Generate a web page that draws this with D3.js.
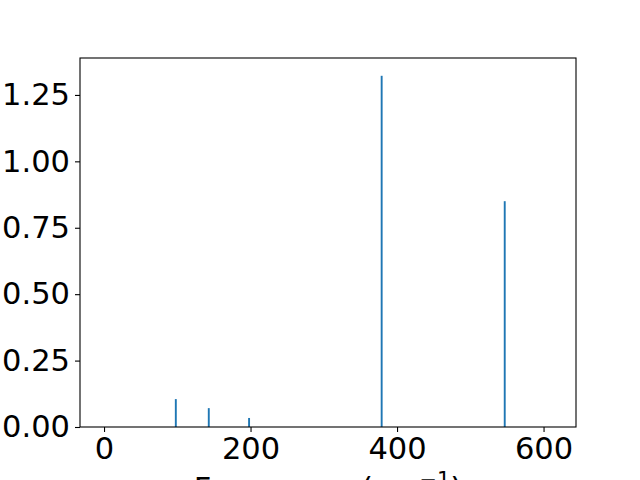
<!DOCTYPE html>
<html><head><meta charset="utf-8">
<script src="https://cdn.jsdelivr.net/npm/d3@7"></script>
<style>body{margin:0;background:#fff}svg{display:block}</style>
</head><body>
<script>
const freqs = [98, 143, 198, 379, 547];
const intensities = [0.105, 0.071, 0.034, 1.322, 0.850];
const xTicks = [0, 200, 400, 600];
const yTicks = [0, 0.25, 0.5, 0.75, 1.0, 1.25];
const barWidth = 2.6;

const W = 640, H = 480;
const m = {left: 80, right: 576, top: 58, bottom: 427};
const svg = d3.select("body").append("svg").attr("width", W).attr("height", H)
  .style("font-family", "DejaVu Sans");

const xs = d3.scaleLinear().domain([-32.8, 644.3]).range([m.left, m.right]);
const ys = d3.scaleLinear().domain([0, 1.389]).range([m.bottom, m.top]);

svg.append("g").selectAll("rect").data(freqs).join("rect")
  .attr("x", (d) => xs(d - barWidth / 2))
  .attr("width", (d) => xs(d + barWidth / 2) - xs(d - barWidth / 2))
  .attr("y", (d, i) => ys(intensities[i]))
  .attr("height", (d, i) => ys(0) - ys(intensities[i]))
  .attr("fill", "#1f77b4");

const xAxis = d3.axisBottom(xs).tickValues(xTicks).tickFormat(d3.format("d")).tickSize(5).tickPadding(5);
const yAxis = d3.axisLeft(ys).tickValues(yTicks).tickFormat(d3.format(".2f")).tickSize(5).tickPadding(5);

const gx = svg.append("g").attr("transform", `translate(0,${m.bottom})`).call(xAxis);
const gy = svg.append("g").attr("transform", `translate(${m.left},0)`).call(yAxis);
[gx, gy].forEach(g => {
  g.attr("font-size", 30.5).attr("font-family", "DejaVu Sans");
  g.select(".domain").remove();
  g.selectAll("text").attr("fill", "#000");
  g.selectAll("line").attr("stroke", "#000").attr("stroke-width", 1.1);
});

svg.append("rect").attr("x", m.left).attr("y", m.top)
  .attr("width", m.right - m.left).attr("height", m.bottom - m.top)
  .attr("fill", "none").attr("stroke", "#000").attr("stroke-width", 1.1);

const lab = svg.append("text").attr("x", (m.left + m.right) / 2).attr("y", 499)
  .attr("text-anchor", "middle").attr("font-size", 30.5).attr("fill", "#000");
lab.append("tspan").text("Frequency (cm");
lab.append("tspan").attr("dy", -12).attr("font-size", 21).text("\u22121");
lab.append("tspan").attr("dy", 12).text(")");
</script>
</body></html>
